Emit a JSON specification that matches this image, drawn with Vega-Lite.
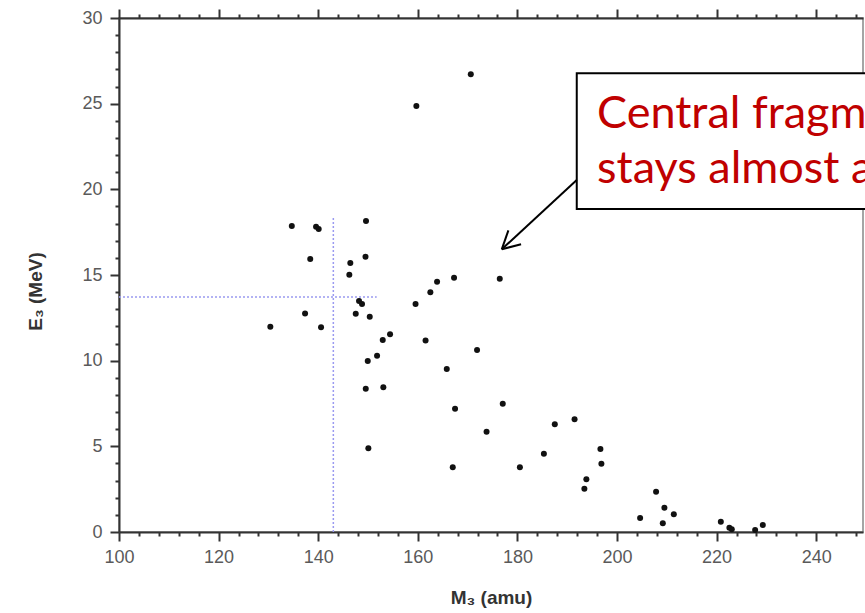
{
  "$schema": "https://vega.github.io/schema/vega-lite/v6.json",
  "width": 744,
  "height": 514,
  "autosize": {"type": "none"},
  "padding": {"left": 119, "top": 18, "right": 2, "bottom": 81},
  "background": "white",
  "config": {
    "view": {"stroke": "#888", "strokeWidth": 1.5},
    "axis": {
      "grid": false,
      "domainColor": "#333",
      "domainWidth": 2,
      "tickColor": "#333",
      "tickWidth": 2,
      "labelFont": "Liberation Sans",
      "labelFontSize": 18,
      "labelColor": "#5a5a5a",
      "labelOverlap": false,
      "labelFlush": false,
      "titleFont": "Liberation Sans",
      "titleFontWeight": "bold",
      "titleFontSize": 19,
      "titleColor": "#333"
    }
  },
  "datasets": {
    "pts": [
      {"m": 134.7, "e": 17.86}, {"m": 139.57, "e": 17.82}, {"m": 140.1, "e": 17.69}, {"m": 149.6, "e": 18.15},
      {"m": 138.4, "e": 15.93}, {"m": 149.5, "e": 16.07}, {"m": 146.45, "e": 15.7}, {"m": 146.25, "e": 15.02},
      {"m": 148.2, "e": 13.48}, {"m": 148.8, "e": 13.31}, {"m": 137.36, "e": 12.76}, {"m": 147.54, "e": 12.74},
      {"m": 150.35, "e": 12.57}, {"m": 130.39, "e": 11.98}, {"m": 140.57, "e": 11.95}, {"m": 152.96, "e": 11.21},
      {"m": 154.43, "e": 11.54}, {"m": 149.95, "e": 9.98}, {"m": 151.82, "e": 10.29}, {"m": 149.55, "e": 8.36},
      {"m": 153.08, "e": 8.45}, {"m": 150.07, "e": 4.89}, {"m": 170.64, "e": 26.71}, {"m": 159.71, "e": 24.86},
      {"m": 163.87, "e": 14.61}, {"m": 167.28, "e": 14.84}, {"m": 176.46, "e": 14.78}, {"m": 162.52, "e": 13.99},
      {"m": 159.55, "e": 13.31}, {"m": 161.56, "e": 11.17}, {"m": 171.9, "e": 10.62}, {"m": 165.82, "e": 9.51},
      {"m": 167.48, "e": 7.2}, {"m": 177.06, "e": 7.49}, {"m": 173.81, "e": 5.85}, {"m": 187.51, "e": 6.29},
      {"m": 191.48, "e": 6.58}, {"m": 185.32, "e": 4.56}, {"m": 167.02, "e": 3.78}, {"m": 180.5, "e": 3.78},
      {"m": 196.67, "e": 4.84}, {"m": 196.87, "e": 3.99}, {"m": 193.85, "e": 3.08}, {"m": 193.45, "e": 2.53},
      {"m": 207.85, "e": 2.35}, {"m": 209.52, "e": 1.42}, {"m": 211.41, "e": 1.03}, {"m": 204.64, "e": 0.82},
      {"m": 209.2, "e": 0.51}, {"m": 220.85, "e": 0.6}, {"m": 222.57, "e": 0.25}, {"m": 223.05, "e": 0.16},
      {"m": 227.74, "e": 0.12}, {"m": 229.28, "e": 0.41}
    ],
    "guides": [
      {"x": 143.04, "y": 0, "x2": 143.04, "y2": 18.4},
      {"x": 100, "y": 13.72, "x2": 151.75, "y2": 13.72}
    ],
    "box": [
      {"x": 191.92, "x2": 262, "y": 18.85, "y2": 26.77}
    ],
    "arrow": [
      {"x": 191.92, "y": 20.55, "x2": 176.86, "y2": 16.5},
      {"x": 176.86, "y": 16.5, "x2": 178.19, "y2": 17.6},
      {"x": 176.86, "y": 16.5, "x2": 180.74, "y2": 16.8}
    ],
    "note": [
      {"x": 196.0, "y": 23.56, "t": "Central fragment"},
      {"x": 196.0, "y": 20.39, "t": "stays almost at rest"}
    ]
  },
  "layer": [
    {
      "data": {"name": "pts"},
      "mark": {"type": "point", "filled": true, "shape": "circle", "color": "#111", "size": 36, "opacity": 1},
      "encoding": {
        "x": {
          "field": "m", "type": "quantitative",
          "scale": {"domain": [100, 249.4], "nice": false, "zero": false},
          "axis": {
            "orient": "bottom",
            "values": [100,104,108,112,116,120,124,128,132,136,140,144,148,152,156,160,164,168,172,176,180,184,188,192,196,200,204,208,212,216,220,224,228,232,236,240,244,248],
            "labelExpr": "datum.value % 20 === 0 ? datum.label : ''",
            "tickSize": {"condition": {"test": "datum.value % 20 === 0", "value": 9}, "value": 4},
            "labelPadding": 7,
            "title": "M₃ (amu)",
            "titlePadding": 22
          }
        },
        "y": {
          "field": "e", "type": "quantitative",
          "scale": {"domain": [0, 30], "nice": false, "zero": false},
          "axis": {
            "orient": "left",
            "values": [0,1,2,3,4,5,6,7,8,9,10,11,12,13,14,15,16,17,18,19,20,21,22,23,24,25,26,27,28,29,30],
            "labelExpr": "datum.value % 5 === 0 ? datum.label : ''",
            "tickSize": {"condition": {"test": "datum.value % 5 === 0", "value": 9}, "value": 4},
            "labelPadding": 8,
            "title": "E₃ (MeV)",
            "titlePadding": 36,
            "titleY": 273
          }
        }
      }
    },
    {
      "data": {"name": "guides"},
      "mark": {"type": "rule", "color": "#9a9af0", "strokeWidth": 1.5, "strokeDash": [2, 2]},
      "encoding": {
        "x": {
          "field": "x", "type": "quantitative",
          "axis": {
            "orient": "top",
            "values": [100,104,108,112,116,120,124,128,132,136,140,144,148,152,156,160,164,168,172,176,180,184,188,192,196,200,204,208,212,216,220,224,228,232,236,240,244,248],
            "labels": false,
            "tickSize": {"condition": {"test": "datum.value % 20 === 0", "value": 9}, "value": 4},
            "title": null
          }
        },
        "x2": {"field": "x2"},
        "y": {"field": "y", "type": "quantitative", "axis": null},
        "y2": {"field": "y2"}
      }
    },
    {
      "data": {"name": "box"},
      "mark": {"type": "rect", "fill": "white", "stroke": "black", "strokeWidth": 2},
      "encoding": {
        "x": {"field": "x", "type": "quantitative", "axis": null},
        "x2": {"field": "x2"},
        "y": {"field": "y", "type": "quantitative", "axis": null},
        "y2": {"field": "y2"}
      }
    },
    {
      "data": {"name": "note"},
      "mark": {"type": "text", "align": "left", "baseline": "alphabetic", "font": "Lato", "fontSize": 45, "color": "#C00000"},
      "encoding": {
        "x": {"field": "x", "type": "quantitative", "axis": null},
        "y": {"field": "y", "type": "quantitative", "axis": null},
        "text": {"field": "t"}
      }
    },
    {
      "data": {"name": "arrow"},
      "mark": {"type": "rule", "color": "black", "strokeWidth": 2},
      "encoding": {
        "x": {"field": "x", "type": "quantitative", "axis": null},
        "x2": {"field": "x2"},
        "y": {"field": "y", "type": "quantitative", "axis": null},
        "y2": {"field": "y2"}
      }
    }
  ],
  "resolve": {"axis": {"x": "independent", "y": "independent"}}
}
